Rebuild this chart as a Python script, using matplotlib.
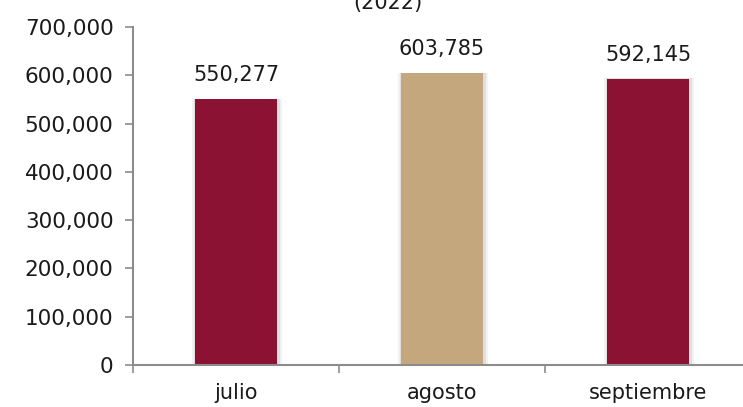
import numpy as np
import matplotlib
matplotlib.use("Agg")
import matplotlib.pyplot as plt
from matplotlib.ticker import FuncFormatter, MultipleLocator, FixedLocator

# data
months = ["julio", "agosto", "septiembre"]
values = [550277, 603785, 592145]
bar_colors = ["#8B1232", "#C4A77D", "#8B1232"]

plt.rcParams['font.family'] = ['DejaVu Sans']
text_col = "#1a1a1a"
axis_col = "#8c8c8c"

fig = plt.figure(figsize=(7.43, 4.07), dpi=100)
ax = fig.add_axes([0.179, 0.1032, 0.8318, 0.8305])

x = np.arange(len(months))
# soft shadow behind each bar
for off, a in [(0.035, 0.05), (0.02, 0.08)]:
    ax.bar(x + 0.005, [v + 3000 for v in values], width=0.40 + off, bottom=-1500,
           color="#000000", alpha=a, zorder=1, linewidth=0)
ax.bar(x, values, width=0.40, color=bar_colors, zorder=2, linewidth=0)

for xi, v in zip(x, values):
    ax.text(xi, v + 30000, f"{v:,}", ha="center", va="bottom",
            fontsize=15, color=text_col)

ax.set_xlim(-0.5, 2.5)
ax.set_ylim(0, 700000)
ax.yaxis.set_major_locator(MultipleLocator(100000))
ax.yaxis.set_major_formatter(FuncFormatter(lambda v, p: f"{int(v):,}"))
ax.set_xticks(x)
ax.set_xticklabels(months)
ax.xaxis.set_minor_locator(FixedLocator([-0.5, 0.5, 1.5, 2.5]))
ax.tick_params(axis="x", which="major", length=0, pad=13, labelsize=15, labelcolor=text_col)
ax.tick_params(axis="x", which="minor", length=6, color=axis_col, width=1.2)
ax.tick_params(axis="y", length=6, color=axis_col, width=1.2, pad=8,
               labelsize=15.5, labelcolor=text_col)

for s in ["top", "right"]:
    ax.spines[s].set_visible(False)
for s in ["left", "bottom"]:
    ax.spines[s].set_color(axis_col)
    ax.spines[s].set_linewidth(1.5)

# title is cut off at the top of the image, only the lower part of "(2022)" shows
fig.text(0.522, 1.0 - 3 / 407, "(2022)", ha="center", va="center",
         fontsize=15, color=text_col)

fig.savefig("out.png", dpi=100)
